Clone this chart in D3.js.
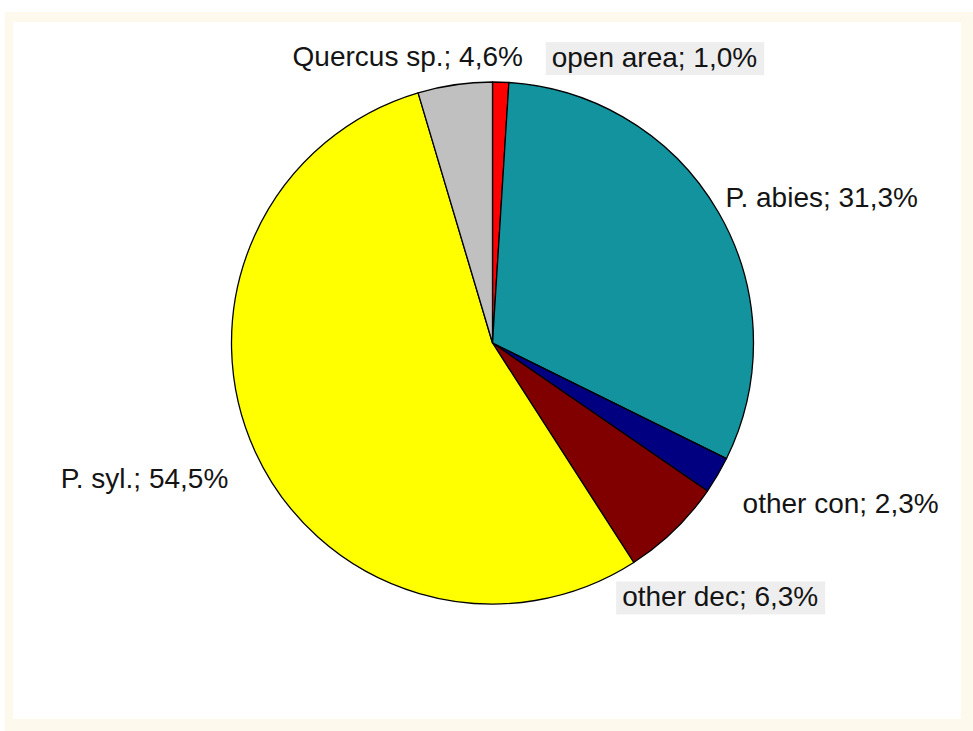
<!DOCTYPE html>
<html>
<head>
<meta charset="utf-8">
<script src="https://cdn.jsdelivr.net/npm/d3@7"></script>
<style>
  html, body { margin: 0; padding: 0; background: #ffffff; }
  svg { display: block; }
  text { font-family: "Liberation Sans", Arial, sans-serif; }
</style>
</head>
<body>
<svg id="chart" width="973" height="731"></svg>
<script>
// Forest cover composition (share of area, %)
const categories = ["open area", "P. abies", "other con", "other dec", "P. syl.", "Quercus sp."];
const shares = [1.0, 31.3, 2.3, 6.3, 54.5, 4.6];
const colors = ["#ff0000", "#12939e", "#000080", "#800000", "#ffff00", "#c0c0c0"];
// labels that sit on a light grey box
const boxed = [true, false, false, true, false, false];

// label placement: offset from the slice's outer edge at its mid-angle
const labelLayout = [
  { dx: 51,   dy: -15, anchor: "start" },
  { dx: 7,    dy: -5,  anchor: "start" },
  { dx: 25,   dy: 38,  anchor: "start" },
  { dx: -52,  dy: 76,  anchor: "start" },
  { dx: -27,  dy: 36,  anchor: "end" },
  { dx: 68,   dy: -19, anchor: "end" }
];

const W = 973, H = 731;
const cx = 492.5, cy = 343, R = 261;
const fmt = v => v.toFixed(1).replace(".", ",") + "%";

const svg = d3.select("#chart");

// page frame: cream band around a white panel
svg.append("rect").attr("x", 5).attr("y", 12).attr("width", W - 5).attr("height", H - 12)
  .attr("fill", "#fdf9ec");
svg.append("rect").attr("x", 13).attr("y", 22).attr("width", 948).attr("height", 697)
  .attr("fill", "#ffffff");

const data = categories.map((c, i) => ({ name: c, value: shares[i], color: colors[i], boxed: boxed[i], lay: labelLayout[i] }));

const pie = d3.pie().value(d => d.value).sort(null).startAngle(0).endAngle(2 * Math.PI);
const arc = d3.arc().innerRadius(0).outerRadius(R);
const arcs = pie(data);

const g = svg.append("g").attr("transform", `translate(${cx},${cy})`);

g.selectAll("path.slice")
  .data(arcs)
  .join("path")
  .attr("class", "slice")
  .attr("d", arc)
  .attr("fill", d => d.data.color)
  .attr("stroke", "#000")
  .attr("stroke-width", 1.3)
  .attr("stroke-linejoin", "round");

// data labels
const labels = g.selectAll("g.label")
  .data(arcs)
  .join("g")
  .attr("class", "label")
  .attr("transform", d => {
    const a = (d.startAngle + d.endAngle) / 2;
    const x = R * Math.sin(a) + d.data.lay.dx;
    const y = -R * Math.cos(a) + d.data.lay.dy;
    return `translate(${x},${y})`;
  });

labels.append("text")
  .attr("text-anchor", d => d.data.lay.anchor)
  .attr("font-size", 28)
  .attr("fill", "#141414")
  .text(d => `${d.data.name}; ${fmt(d.data.value)}`);

labels.each(function(d) {
  if (!d.data.boxed) return;
  const grp = d3.select(this);
  const bb = grp.select("text").node().getBBox();
  grp.insert("rect", "text")
    .attr("x", bb.x - 6)
    .attr("y", bb.y)
    .attr("width", bb.width + 13)
    .attr("height", bb.height + 2)
    .attr("fill", "#eeeeee");
});
</script>
</body>
</html>
